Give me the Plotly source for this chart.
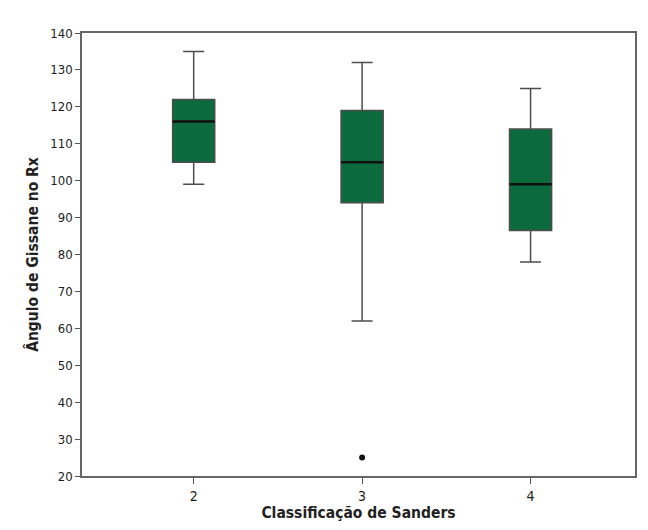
import plotly.graph_objects as go

categories = [2, 3, 4]
upper_whisker = [135, 132, 125]
q3_vals = [122, 119, 114]
medians = [116, 105, 99]
q1_vals = [105, 94, 86.5]
lower_whisker = [99, 62, 78]
outlier_x = [3]
outlier_y = [25]
y_ticks = [20, 30, 40, 50, 60, 70, 80, 90, 100, 110, 120, 130, 140]

BOX_W = 0.25
FONT = "DejaVu Sans Condensed, Liberation Sans Narrow, Arial Narrow, sans-serif"

fig = go.Figure()
fig.add_trace(go.Box(
    x=categories, q1=q1_vals, median=medians, q3=q3_vals,
    lowerfence=lower_whisker, upperfence=upper_whisker,
    width=BOX_W, whiskerwidth=0.5,
    fillcolor="#0b6b3d", line=dict(color="#4d4d4d", width=1.5),
    boxpoints=False, showlegend=False, hoverinfo="skip",
))
mx, my = [], []
for c, m in zip(categories, medians):
    mx += [c - BOX_W / 2, c + BOX_W / 2, None]
    my += [m, m, None]
fig.add_trace(go.Scatter(x=mx, y=my, mode="lines",
                         line=dict(color="#111111", width=2.5),
                         showlegend=False, hoverinfo="skip"))
fig.add_trace(go.Scatter(x=outlier_x, y=outlier_y, mode="markers",
                         marker=dict(color="#111111", size=6),
                         showlegend=False, hoverinfo="skip"))

fig.update_layout(
    width=632, height=514,
    margin=dict(l=74, r=3, t=25, b=46),
    plot_bgcolor="white", paper_bgcolor="white",
    font=dict(family=FONT, size=13, color="#222222"),
)
fig.update_xaxes(
    range=[1.337, 4.62], tickvals=categories, ticktext=[str(c) for c in categories],
    ticks="outside", ticklen=6, tickcolor="#555555",
    showline=True, linecolor="#666666", linewidth=1.5, mirror=True,
    showgrid=False, zeroline=False,
    title=dict(text="<b>Classificação de Sanders</b>", font=dict(size=15.5), standoff=4),
    tickfont=dict(size=14),
)
fig.update_yaxes(
    range=[20, 140], tickvals=y_ticks,
    ticks="outside", ticklen=5, tickcolor="#555555",
    showline=True, linecolor="#666666", linewidth=1.5, mirror=True,
    showgrid=False, zeroline=False,
    title=dict(text="<b>Ângulo de Gissane no Rx</b>", font=dict(size=15.5), standoff=8),
    tickfont=dict(size=13),
)
fig.write_html("out.html")
